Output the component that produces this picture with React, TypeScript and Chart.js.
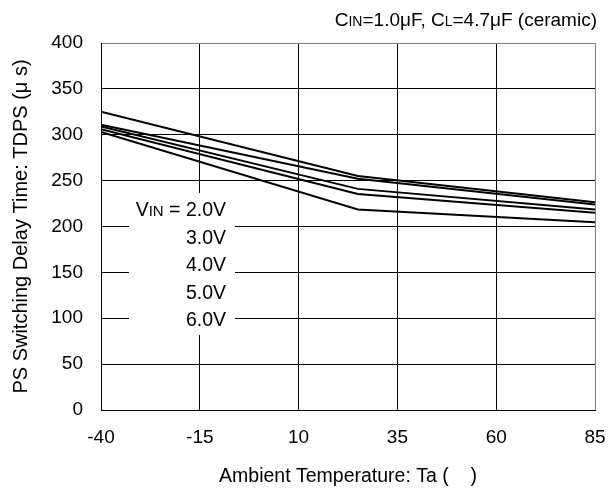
import React, { useEffect, useRef } from 'react';
import { Chart, registerables } from 'chart.js';

Chart.register(...registerables);

// ---- data ----
const temperatures = [-40, 25, 85];
const seriesLabels = ['2.0V', '3.0V', '4.0V', '5.0V', '6.0V'];
const vin20 = [325, 255, 226.5];
const vin30 = [311, 252, 224];
const vin40 = [309, 241, 218.5];
const vin50 = [306, 235.5, 215];
const vin60 = [303, 218.5, 204.5];
const seriesValues = [vin20, vin30, vin40, vin50, vin60];
const xTicks = [-40, -15, 10, 35, 60, 85];
const yTicks = [0, 50, 100, 150, 200, 250, 300, 350, 400];
const xTitle = 'Ambient Temperature: Ta (    )';
const yTitle = 'PS Switching Delay Time: TDPS (μ s)';

const FONT = '"Liberation Sans", Arial, sans-serif';

type Run = { text: string; size: number };

function drawRuns(ctx: CanvasRenderingContext2D, runs: Run[], xRight: number, baseline: number) {
  let total = 0;
  const widths = runs.map((r) => {
    ctx.font = `${r.size}px ${FONT}`;
    const w = ctx.measureText(r.text).width;
    total += w;
    return w;
  });
  let x = xRight - total;
  ctx.textAlign = 'left';
  ctx.textBaseline = 'alphabetic';
  runs.forEach((r, i) => {
    ctx.font = `${r.size}px ${FONT}`;
    ctx.fillText(r.text, x, baseline);
    x += widths[i];
  });
}

const annotationPlugin = {
  id: 'annotations',
  beforeDatasetsDraw(chart: any) {
    const ctx: CanvasRenderingContext2D = chart.ctx;
    const { left, top } = chart.chartArea;
    ctx.save();
    // white box behind the legend text
    ctx.fillStyle = '#ffffff';
    ctx.fillRect(left + 28, top + 150, 106, 142);
    ctx.fillStyle = '#000000';
    const rightEdge = left + 125;
    const firstBaseline = top + 173;
    const step = 27.6;
    seriesLabels.forEach((lab, i) => {
      const runs: Run[] =
        i === 0
          ? [
              { text: 'V', size: 19.5 },
              { text: 'IN', size: 15 },
              { text: ' = ' + lab, size: 19.5 },
            ]
          : [{ text: lab, size: 19.5 }];
      drawRuns(ctx, runs, rightEdge, firstBaseline + i * step);
    });
    // condition note top right
    drawRuns(
      ctx,
      [
        { text: 'C', size: 19 },
        { text: 'IN', size: 14 },
        { text: '=1.0μF, C', size: 19 },
        { text: 'L', size: 14 },
        { text: '=4.7μF (ceramic)', size: 19 },
      ],
      chart.chartArea.right + 2,
      26
    );
    ctx.restore();
  },
};

export default function App() {
  const ref = useRef<HTMLCanvasElement | null>(null);

  useEffect(() => {
    if (!ref.current) return;
    const datasets = seriesValues.map((vals, i) => ({
      label: seriesLabels[i],
      data: temperatures.map((t, j) => ({ x: t, y: vals[j] })),
      borderColor: '#000000',
      backgroundColor: '#000000',
      borderWidth: 2,
      pointRadius: 0,
      tension: 0,
      fill: false,
    }));
    const chart = new Chart(ref.current, {
      type: 'line',
      data: { datasets },
      plugins: [annotationPlugin],
      options: {
        animation: false,
        responsive: false,
        events: [],
        layout: { padding: { top: 43, right: 13, left: 0, bottom: 0 } },
        plugins: {
          legend: { display: false },
          tooltip: { enabled: false },
          title: { display: false },
        },
        scales: {
          x: {
            type: 'linear',
            min: -40,
            max: 85,
            afterBuildTicks: (scale: any) => {
              scale.ticks = xTicks.map((v) => ({ value: v }));
            },
            afterFit: (scale: any) => {
              scale.height = 78;
              scale.paddingLeft = 0;
              scale.paddingRight = 0;
            },
            grid: {
              color: (c: any) => (c.tick && c.tick.value === 85 ? '#808080' : '#000000'),
              lineWidth: 1,
              drawTicks: false,
            },
            border: { display: true, color: '#000000', width: 1 },
            ticks: {
              padding: 16,
              color: '#000000',
              font: { family: FONT, size: 19 },
              maxRotation: 0,
              autoSkip: false,
              callback: (v: any) => String(v),
            },
            title: {
              display: true,
              text: xTitle,
              color: '#000000',
              font: { family: FONT, size: 19.5 },
              padding: { top: 0, bottom: 0 },
            },
          },
          y: {
            type: 'linear',
            min: 0,
            max: 400,
            afterBuildTicks: (scale: any) => {
              scale.ticks = yTicks.map((v) => ({ value: v }));
            },
            afterFit: (scale: any) => {
              scale.width = 101;
              scale.paddingTop = 0;
              scale.paddingBottom = 0;
            },
            grid: {
              color: (c: any) => (c.tick && c.tick.value === 400 ? '#808080' : '#000000'),
              lineWidth: 1,
              drawTicks: false,
            },
            border: { display: true, color: '#000000', width: 1 },
            ticks: {
              padding: 18,
              color: '#000000',
              font: { family: FONT, size: 19 },
              autoSkip: false,
              callback: (v: any) => String(v),
            },
            title: {
              display: true,
              text: yTitle,
              color: '#000000',
              font: { family: FONT, size: 20 },
              padding: { top: 9.7, bottom: 0 },
            },
          },
        },
      },
    });
    return () => chart.destroy();
  }, []);

  return (
    <div style={{ position: 'absolute', left: 0, top: 0, width: 608, height: 488, background: '#fff' }}>
      <canvas ref={ref} width={608} height={488} style={{ display: 'block' }} />
    </div>
  );
}
